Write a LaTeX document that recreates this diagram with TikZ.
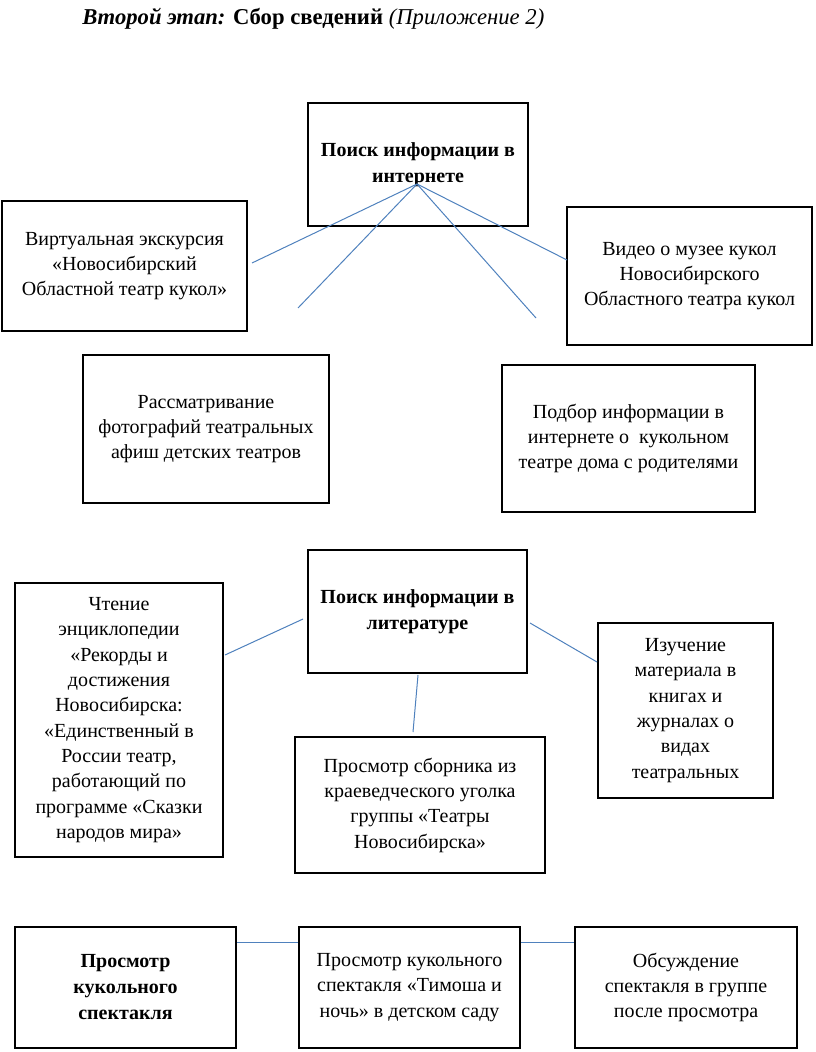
\documentclass[tikz,border=0pt]{standalone}
\usepackage{fontspec}
\setmainfont{Liberation Serif}
\definecolor{linkblue}{RGB}{79,129,189}
\tikzset{
  box/.style={draw=black, line width=2.2pt, align=center, inner sep=2pt,
    font=\fontsize{15pt}{19pt}\selectfont},
  boldbox/.style={box, font=\fontsize{15pt}{19.5pt}\selectfont\bfseries},
  link/.style={draw=linkblue, line width=0.75pt},
}
\begin{document}
\begin{tikzpicture}[x=0.75pt,y=-0.75pt]
\useasboundingbox (0,0) rectangle (816,1052);
\node[anchor=base west, font=\fontsize{17pt}{20pt}\selectfont, inner sep=0] (title) at (82,25)
  {{\bfseries\itshape Второй этап:} {\bfseries Сбор сведений} {\itshape (Приложение 2)}};

% top section
\node[boldbox, minimum width=220*0.75pt, minimum height=123*0.75pt] (inet) at (418,164.5)
  {Поиск информации в\\интернете};
\node[box, minimum width=245*0.75pt, minimum height=130*0.75pt] (virt) at (124.5,266)
  {Виртуальная экскурсия\\«Новосибирский\\Областной театр кукол»};
\node[box, minimum width=245*0.75pt, minimum height=138*0.75pt] (video) at (689.5,276)
  {Видео о музее кукол\\Новосибирского\\Областного театра кукол};
\node[box, minimum width=246*0.75pt, minimum height=148*0.75pt] (rassm) at (206,429)
  {Рассматривание\\фотографий театральных\\афиш детских театров};
\node[box, minimum width=253*0.75pt, minimum height=147*0.75pt] (podbor) at (628.5,438.5)
  {Подбор информации в\\интернете о\ \ кукольном\\театре дома с родителями};

\coordinate (hub) at (417,184);
\coordinate (e1) at (252,263);
\coordinate (e2) at (298,308);
\coordinate (e3) at (536,318);
\coordinate (e4) at (567,260);
\draw[link] (hub) -- (e1);
\draw[link] (hub) -- (e2);
\draw[link] (hub) -- (e3);
\draw[link] (hub) -- (e4);

% middle section
\node[boldbox, minimum width=219*0.75pt, minimum height=123*0.75pt] (lit) at (417.5,611.5)
  {Поиск информации в\\литературе};
\node[box, minimum width=208*0.75pt, minimum height=274*0.75pt] (chten) at (119,720)
  {Чтение\\энциклопедии\\«Рекорды и\\достижения\\Новосибирска:\\«Единственный в\\России театр,\\работающий по\\программе «Сказки\\народов мира»};
\node[box, minimum width=175*0.75pt, minimum height=175*0.75pt] (izuch) at (685.5,710.5)
  {Изучение\\материала в\\книгах и\\журналах о\\видах\\театральных};
\node[box, minimum width=250*0.75pt, minimum height=136*0.75pt] (sborn) at (420,805)
  {Просмотр сборника из\\краеведческого уголка\\группы «Театры\\Новосибирска»};

\coordinate (m1a) at (303,619);
\coordinate (m1b) at (225,655);
\coordinate (m2a) at (530,623);
\coordinate (m2b) at (597,662);
\coordinate (m3a) at (418,675);
\coordinate (m3b) at (413,732);
\draw[link] (m1a) -- (m1b);
\draw[link] (m2a) -- (m2b);
\draw[link] (m3a) -- (m3b);

% bottom section
\node[boldbox, minimum width=221*0.75pt, minimum height=121*0.75pt] (b1) at (125.5,987.5)
  {Просмотр\\кукольного\\спектакля};
\node[box, minimum width=221*0.75pt, minimum height=121*0.75pt] (b2) at (409.5,987.5)
  {Просмотр кукольного\\спектакля «Тимоша и\\ночь» в детском саду};
\node[box, minimum width=222*0.75pt, minimum height=121*0.75pt] (b3) at (686,987.5)
  {Обсуждение\\спектакля в группе\\после просмотра};
\coordinate (row) at (0,942);
\draw[link] (b1.east |- row) -- (b2.west |- row);
\draw[link] (b2.east |- row) -- (b3.west |- row);
\end{tikzpicture}
\end{document}
